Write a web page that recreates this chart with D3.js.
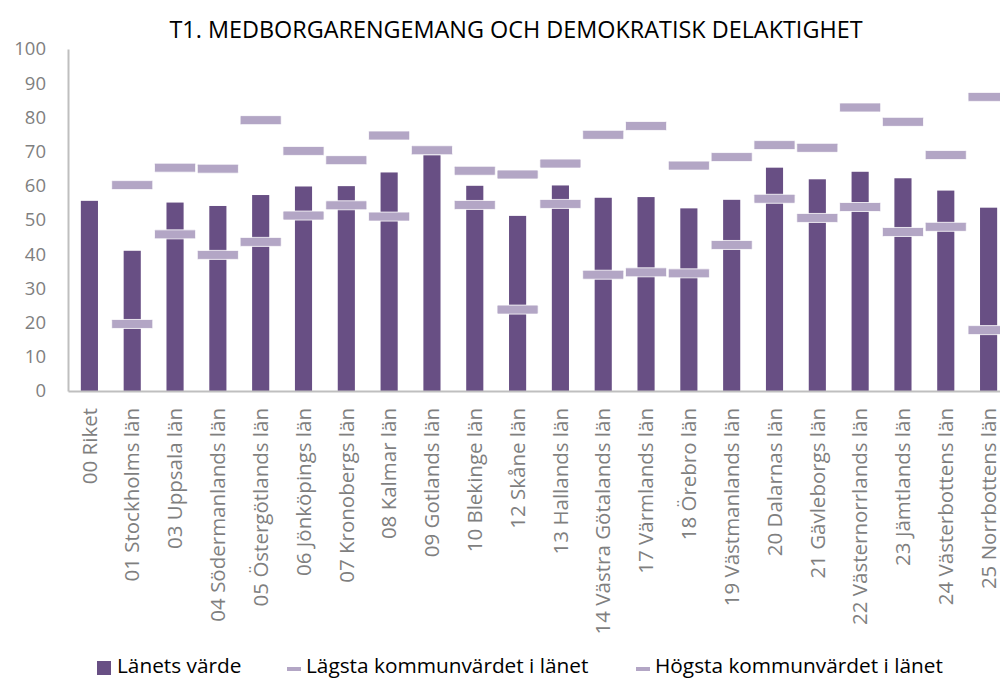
<!DOCTYPE html>
<html>
<head>
<meta charset="utf-8">
<script src="https://cdn.jsdelivr.net/npm/d3@7"></script>
<style>
  body { margin: 0; background: #fff; }
  svg { display: block; font-family: "Open Sans", sans-serif; }
</style>
</head>
<body>
<svg width="1000" height="679"></svg>
<script>
const width = 1000;
const height = 679;

// Data
const categories = [
  "00 Riket", "01 Stockholms län", "03 Uppsala län", "04 Södermanlands län",
  "05 Östergötlands län", "06 Jönköpings län", "07 Kronobergs län", "08 Kalmar län",
  "09 Gotlands län", "10 Blekinge län", "12 Skåne län", "13 Hallands län",
  "14 Västra Götalands län", "17 Värmlands län", "18 Örebro län", "19 Västmanlands län",
  "20 Dalarnas län", "21 Gävleborgs län", "22 Västernorrlands län", "23 Jämtlands län",
  "24 Västerbottens län", "25 Norrbottens län"
];
const lanetsVarde = [55.6, 41.0, 55.1, 54.1, 57.3, 59.8, 59.9, 63.9, 70.4, 60.0, 51.2,
  60.1, 56.5, 56.7, 53.4, 55.9, 65.3, 61.9, 64.1, 62.2, 58.6, 53.6];
const lagsta = [null, 19.6, 45.8, 39.8, 43.6, 51.3, 54.3, 51.0, 70.4, 54.4, 23.8,
  54.7, 34.0, 34.7, 34.4, 42.7, 56.2, 50.6, 53.8, 46.5, 48.0, 17.8];
const hogsta = [null, 60.2, 65.3, 65.0, 79.2, 70.2, 67.5, 74.7, 70.4, 64.4, 63.3,
  66.5, 74.9, 77.5, 65.9, 68.4, 71.9, 71.1, 82.9, 78.7, 69.0, 86.0];
const yTicks = [0, 10, 20, 30, 40, 50, 60, 70, 80, 90, 100];

const title = "T1. MEDBORGARENGEMANG OCH DEMOKRATISK DELAKTIGHET";
const legendLabels = ["Länets värde", "Lägsta kommunvärdet i länet", "Högsta kommunvärdet i länet"];

const barColor = "#684f84";
const markerColor = "#b3a6c5";
const axisColor = "#bfbfbf";
const labelColor = "#7f7f7f";

const plotLeft = 68, plotRight = 1010, plotTop = 49, plotBottom = 391;

const svg = d3.select("svg");

// Title
svg.append("text")
  .attr("x", 516)
  .attr("y", 38)
  .attr("text-anchor", "middle")
  .attr("font-size", "23.4px")
  .attr("fill", "#000")
  .text(title);

// Scales
const x = d3.scaleBand()
  .domain(categories)
  .range([plotLeft, plotRight])
  .paddingInner(0)
  .paddingOuter(0);

const y = d3.scaleLinear()
  .domain([0, 100])
  .range([plotBottom, plotTop]);

// Y axis
const yAxis = svg.append("g")
  .attr("transform", `translate(${plotLeft}, 0)`)
  .call(d3.axisLeft(y).tickValues(yTicks).tickSize(0).tickPadding(22));
yAxis.select(".domain").attr("stroke", axisColor).attr("stroke-width", 2);
yAxis.selectAll("text")
  .attr("font-size", "18.5px")
  .attr("font-family", "'Open Sans', sans-serif")
  .attr("fill", labelColor);

// Bars
svg.append("g")
  .selectAll("rect")
  .data(categories)
  .enter().append("rect")
  .attr("x", (d, i) => x(d) + x.bandwidth() * 0.3)
  .attr("y", (d, i) => y(lanetsVarde[i]))
  .attr("width", x.bandwidth() * 0.4)
  .attr("height", (d, i) => plotBottom - y(lanetsVarde[i]))
  .attr("fill", barColor);

// X axis baseline + labels
const xAxis = svg.append("g")
  .attr("transform", `translate(0, ${plotBottom})`)
  .call(d3.axisBottom(x).tickSize(0).tickSizeOuter(0));
xAxis.select(".domain").attr("stroke", axisColor).attr("stroke-width", 2);
xAxis.selectAll("text")
  .attr("font-size", "20.5px")
  .attr("font-family", "'Open Sans', sans-serif")
  .attr("fill", labelColor)
  .attr("text-anchor", "end")
  .attr("transform", "rotate(-90)")
  .attr("x", -17)
  .attr("y", 0)
  .attr("dy", "0.35em");

// Min / max markers (dash shaped)
const markerW = x.bandwidth() * 0.96, markerH = 9;
function drawMarkers(values) {
  svg.append("g")
    .selectAll("rect")
    .data(categories.filter((d, i) => values[i] != null))
    .enter().append("rect")
    .attr("x", d => x(d) + x.bandwidth() / 2 - markerW / 2)
    .attr("y", d => y(values[categories.indexOf(d)]) - markerH / 2)
    .attr("width", markerW)
    .attr("height", markerH)
    .attr("rx", 1)
    .attr("fill", markerColor)
    .attr("stroke", "#ffffff")
    .attr("stroke-width", 0.8);
}
drawMarkers(lagsta);
drawMarkers(hogsta);

// Legend
const legend = svg.append("g").attr("font-size", "20.8px").attr("fill", "#000");
legend.append("rect").attr("x", 97).attr("y", 661).attr("width", 14).attr("height", 14).attr("fill", barColor);
legend.append("text").attr("x", 117).attr("y", 673).text(legendLabels[0]);
legend.append("rect").attr("x", 287).attr("y", 667).attr("width", 14).attr("height", 4).attr("fill", markerColor);
legend.append("text").attr("x", 306).attr("y", 673).text(legendLabels[1]);
legend.append("rect").attr("x", 636).attr("y", 667).attr("width", 14).attr("height", 4).attr("fill", markerColor);
legend.append("text").attr("x", 655).attr("y", 673).text(legendLabels[2]);
</script>
</body>
</html>
